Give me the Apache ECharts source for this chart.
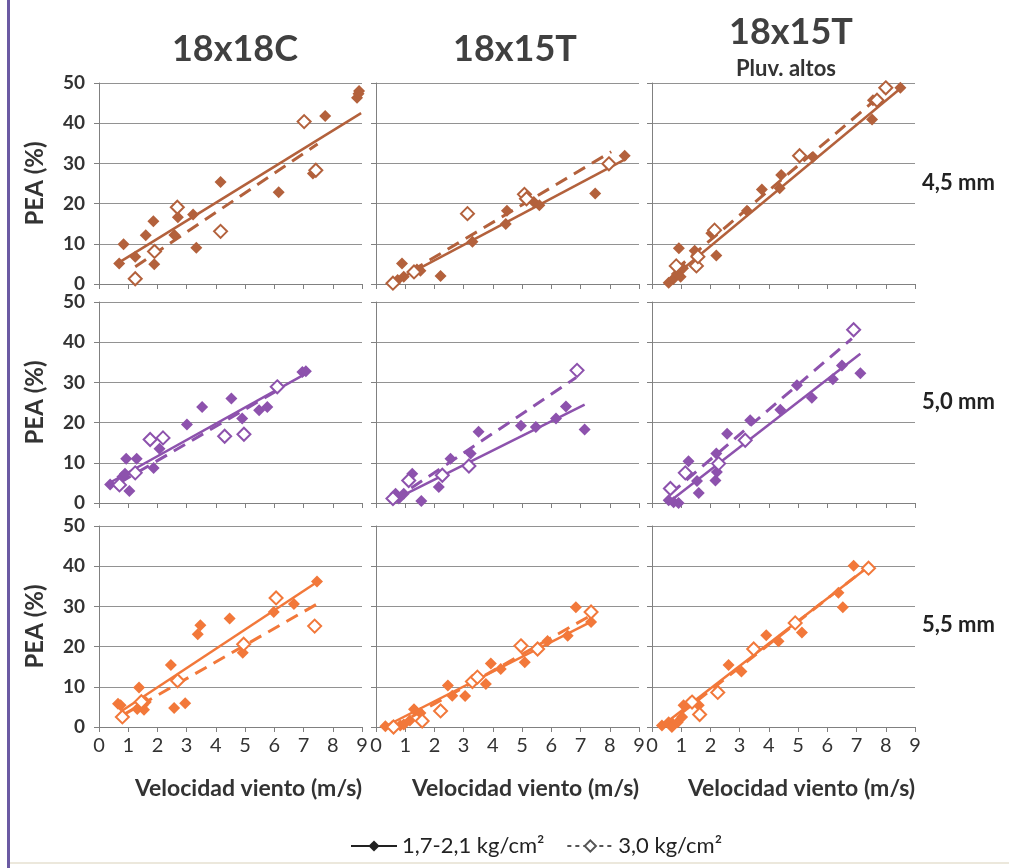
<!DOCTYPE html>
<html>
<head>
<meta charset="utf-8">
<script src="https://cdn.jsdelivr.net/npm/echarts@6/dist/echarts.min.js"></script>
<style>
  html, body { margin: 0; padding: 0; background: #fff; }
  #chart { width: 1009px; height: 868px; }
</style>
</head>
<body>
<div id="chart"></div>
<script>
// column titles, row labels, legend names
const colTitles = ["18x18C", "18x15T", "18x15T"];
const rowLabels = ["4,5 mm", "5,0 mm", "5,5 mm"];
const seriesNames = ["1,7-2,1 kg/cm²", "3,0 kg/cm²"];
const rowColors = ["#b3613c", "#8d52ad", "#f2783a"];

// 4,5 mm  (a = 1,7-2,1 kg/cm2, b = 3,0 kg/cm2)
const c18C_45_a = [[0.69,5.1],[0.84,9.9],[1.24,6.8],[1.6,12.1],[1.86,15.6],[1.89,4.9],[2.58,12.2],[2.7,16.6],[3.22,17.3],[3.33,9.0],[4.16,25.4],[6.15,22.8],[7.32,27.5],[7.74,41.8],[8.83,46.3],[8.88,47.3],[8.9,48.0]];
const c18C_45_b = [[1.24,1.3],[1.9,8.1],[2.68,19.1],[4.16,13.1],[7.02,40.4],[7.42,28.3]];
const t15_45_a = [[0.61,0.3],[0.74,1.0],[0.89,5.1],[0.95,1.8],[1.4,3.6],[1.52,3.3],[2.21,2.0],[3.3,10.5],[4.44,14.9],[4.48,18.2],[5.4,20.4],[5.59,19.6],[7.5,22.5],[8.51,31.9]];
const t15_45_b = [[0.58,0.2],[1.3,3.0],[3.13,17.5],[5.08,22.3],[5.15,21.2],[7.97,29.9]];
const pluv_45_a = [[0.57,0.3],[0.72,1.2],[0.85,2.5],[0.92,8.9],[0.98,1.8],[1.06,3.9],[1.46,8.3],[2.03,12.6],[2.2,7.1],[3.25,18.2],[3.76,23.5],[4.37,23.8],[4.42,27.1],[5.51,31.6],[7.53,40.9],[7.56,45.7],[8.5,48.8]];
const pluv_45_b = [[0.83,4.5],[1.52,4.5],[1.57,6.8],[2.14,13.4],[5.05,31.9],[7.7,45.7],[8.0,48.8]];

// 5,0 mm
const c18C_50_a = [[0.38,4.6],[0.8,6.5],[0.89,7.3],[0.93,11.0],[1.04,3.0],[1.29,11.0],[1.87,8.7],[2.07,13.5],[3.01,19.5],[3.53,23.9],[4.53,26.0],[4.9,21.0],[5.48,23.1],[5.76,23.9],[6.96,32.6],[7.08,32.8]];
const c18C_50_b = [[0.7,4.5],[1.24,7.5],[1.75,15.8],[2.19,16.2],[4.3,16.6],[4.96,17.1],[6.1,28.9]];
const t15_50_a = [[0.67,2.3],[0.78,1.1],[0.95,2.3],[1.12,5.6],[1.24,7.3],[1.55,0.5],[2.15,4.0],[2.55,11.0],[3.24,12.3],[3.51,17.7],[4.96,19.2],[5.47,18.9],[6.16,21.0],[6.5,24.0],[7.14,18.3]];
const t15_50_b = [[0.58,1.1],[1.12,5.6],[2.27,6.9],[3.18,9.2],[6.88,33.0]];
const pluv_50_a = [[0.57,0.7],[0.74,0.2],[0.91,0],[1.25,10.4],[1.54,5.5],[1.6,2.5],[2.17,5.6],[2.22,7.7],[2.2,12.3],[2.57,17.2],[3.36,20.6],[4.39,23.2],[4.96,29.3],[5.47,26.2],[6.19,30.8],[6.5,34.2],[7.13,32.3]];
const pluv_50_b = [[0.63,3.6],[1.14,7.5],[2.28,9.8],[3.19,15.6],[6.9,43.1]];

// 5,5 mm
const c18C_55_a = [[0.65,5.8],[0.74,5.4],[1.31,4.5],[1.37,9.8],[1.49,5.4],[1.54,4.3],[1.6,6.2],[2.46,15.4],[2.57,4.7],[2.95,5.9],[3.38,23.1],[3.47,25.3],[4.47,27.0],[4.92,18.5],[5.98,28.6],[6.67,30.6],[7.46,36.2]];
const c18C_55_b = [[0.8,2.5],[1.45,6.3],[2.69,11.5],[4.95,20.6],[6.06,32.1],[7.38,25.1]];
const t15_55_a = [[0.32,0.2],[0.55,0.2],[0.83,0.4],[0.95,0.6],[1.16,1.6],[1.3,4.4],[1.52,3.5],[2.46,10.3],[2.61,7.8],[3.05,7.7],[3.76,10.7],[3.93,15.8],[4.27,14.4],[5.09,16.1],[5.87,21.4],[6.56,22.7],[6.84,29.8],[7.36,26.1]];
const t15_55_b = [[0.6,0],[1.58,1.5],[2.21,4.0],[3.3,11.3],[3.47,12.4],[4.96,20.2],[5.53,19.4],[7.36,28.6]];
const pluv_55_a = [[0.34,0.4],[0.57,1.2],[0.68,0],[0.88,1.2],[1.03,2.5],[1.08,5.4],[1.31,6.2],[1.6,5.4],[2.25,8.6],[2.62,15.4],[3.06,13.8],[3.91,22.8],[4.33,21.3],[5.13,23.5],[6.38,33.4],[6.53,29.8],[6.9,40.1]];
const pluv_55_b = [[1.37,6.2],[1.63,3.1],[2.25,8.6],[3.48,19.4],[4.9,25.9],[7.41,39.5]];

// trend line end points, panel order row by row
const trendSolid = [
  [[0.72,5.5],[8.97,42.5]], [[0.55,0.3],[8.57,31.2]], [[0.49,0.3],[8.53,48.8]],
  [[0.26,4.6],[7.08,32.2]], [[0.61,0.8],[7.14,24.5]], [[0.57,0.2],[7.13,37.1]],
  [[0.8,4.1],[7.49,36.2]],  [[0.27,0],[7.42,26.4]],   [[0.29,0],[7.45,40.1]]
];
const trendDashed = [
  [[1.24,4.3],[7.48,34.8]], [[0.6,0.6],[8.05,32.9]], [[0.8,3.5],[8.19,49.2]],
  [[0.7,5.0],[6.1,28.0]],   [[0.61,0.8],[6.85,31.2]], [[0.63,2.3],[6.84,40.9]],
  [[0.8,2.9],[7.44,30.5]],  [[0.6,0],[7.36,27.8]],   [[0.4,0],[7.41,40.0]]
];

const filled = [c18C_45_a, t15_45_a, pluv_45_a, c18C_50_a, t15_50_a, pluv_50_a, c18C_55_a, t15_55_a, pluv_55_a];
const open = [c18C_45_b, t15_45_b, pluv_45_b, c18C_50_b, t15_50_b, pluv_50_b, c18C_55_b, t15_55_b, pluv_55_b];

const FONT = "Lato";
const colLeft = [99, 376, 652];
const rowTop = [83, 302, 526];
const W = 263, H = 201;

const grids = [], xAxes = [], yAxes = [], series = [];
for (let r = 0; r < 3; r++) {
  for (let c = 0; c < 3; c++) {
    const i = r * 3 + c;
    const col = rowColors[r];
    grids.push({ left: colLeft[c], top: rowTop[r], width: W, height: H });
    xAxes.push({
      gridIndex: i, type: "value", min: 0, max: 9, interval: 1,
      axisLine: { show: true, lineStyle: { color: "#808080", width: 1 } },
      axisTick: { show: true, inside: false, length: 5, lineStyle: { color: "#808080" } },
      splitLine: { show: false },
      axisLabel: { show: r === 2, color: "#333", fontFamily: FONT, fontSize: 20, margin: 9 },
      name: r === 2 ? "Velocidad viento (m/s)" : "",
      nameLocation: "middle", nameGap: 50,
      // the titles sit a little right of the plot centre
      nameTextStyle: { color: "#333", fontFamily: FONT, fontWeight: "bold", fontSize: 23, padding: [0, 0, 0, 36] }
    });
    yAxes.push({
      gridIndex: i, type: "value", min: 0, max: 50, interval: 10,
      axisLine: { show: true, lineStyle: { color: "#808080", width: 1 } },
      axisTick: { show: true, inside: false, length: 5, lineStyle: { color: "#808080" } },
      splitLine: { show: true, lineStyle: { color: "#929292", width: 1 } },
      axisLabel: { show: c === 0, color: "#333", fontFamily: FONT, fontWeight: "bold", fontSize: 19, margin: 14 },
      name: c === 0 ? "PEA (%)" : "",
      nameLocation: "middle", nameGap: 52, nameRotate: 90,
      nameTextStyle: { color: "#333", fontFamily: FONT, fontWeight: "bold", fontSize: 24 }
    });
    series.push({
      type: "line", xAxisIndex: i, yAxisIndex: i, data: trendSolid[i],
      symbol: "none", silent: true, z: 2,
      lineStyle: { color: col, width: 2.5 }
    });
    series.push({
      type: "line", xAxisIndex: i, yAxisIndex: i, data: trendDashed[i],
      symbol: "none", silent: true, z: 2,
      lineStyle: { color: col, width: 3, type: [13, 8] }
    });
    series.push({
      type: "scatter", xAxisIndex: i, yAxisIndex: i, data: filled[i],
      symbol: "diamond", symbolSize: 12, z: 3,
      itemStyle: { color: col, opacity: 1 }
    });
    series.push({
      type: "scatter", xAxisIndex: i, yAxisIndex: i, data: open[i],
      symbol: "emptyDiamond", symbolSize: 13, z: 4,
      itemStyle: { color: col, borderColor: col, borderWidth: 2, opacity: 1 }
    });
  }
}

// legend-only series
series.push({
  name: seriesNames[0], type: "line", xAxisIndex: 0, yAxisIndex: 0, data: [],
  symbol: "diamond", symbolSize: 12, itemStyle: { color: "#222" }, lineStyle: { color: "#222", width: 2.5 }
});
series.push({
  name: seriesNames[1], type: "line", xAxisIndex: 0, yAxisIndex: 0, data: [],
  symbol: "emptyDiamond", symbolSize: 12, itemStyle: { color: "#555", borderColor: "#555" },
  lineStyle: { color: "#555", width: 2, type: [4, 4] }
});

const chart = echarts.init(document.getElementById("chart"), null, { renderer: "canvas" });
chart.setOption({
  animation: false,
  backgroundColor: "#fff",
  title: [
    { text: colTitles[0], left: 230, top: 26, textAlign: "center",
      textStyle: { fontFamily: FONT, fontWeight: "bold", fontSize: 36, color: "#404040" } },
    { text: colTitles[1], left: 510, top: 26, textAlign: "center",
      textStyle: { fontFamily: FONT, fontWeight: "bold", fontSize: 36, color: "#404040" } },
    { text: colTitles[2], left: 786, top: 9, textAlign: "center",
      textStyle: { fontFamily: FONT, fontWeight: "bold", fontSize: 36, color: "#404040" } },
    { text: "Pluv. altos", left: 781, top: 53, textAlign: "center",
      textStyle: { fontFamily: FONT, fontWeight: "bold", fontSize: 22, color: "#333" } }
  ],
  legend: {
    data: seriesNames, left: 345, top: 830,
    itemWidth: 46, itemHeight: 14, itemGap: 22,
    textStyle: { fontFamily: FONT, fontSize: 22, color: "#222" }
  },
  graphic: [
    { type: "rect", left: 7, top: 0, shape: { width: 3, height: 868 }, style: { fill: "#6b5aa3" } },
    { type: "rect", left: 10, top: 862, shape: { width: 999, height: 2 }, style: { fill: "#ece8dc" } },
    { type: "text", left: 922, top: 172, style: { text: rowLabels[0], font: "bold 22px Lato", fill: "#222" } },
    { type: "text", left: 922, top: 391, style: { text: rowLabels[1], font: "bold 22px Lato", fill: "#222" } },
    { type: "text", left: 922, top: 614, style: { text: rowLabels[2], font: "bold 22px Lato", fill: "#222" } }
  ],
  grid: grids,
  xAxis: xAxes,
  yAxis: yAxes,
  series: series
});
</script>
</body>
</html>
